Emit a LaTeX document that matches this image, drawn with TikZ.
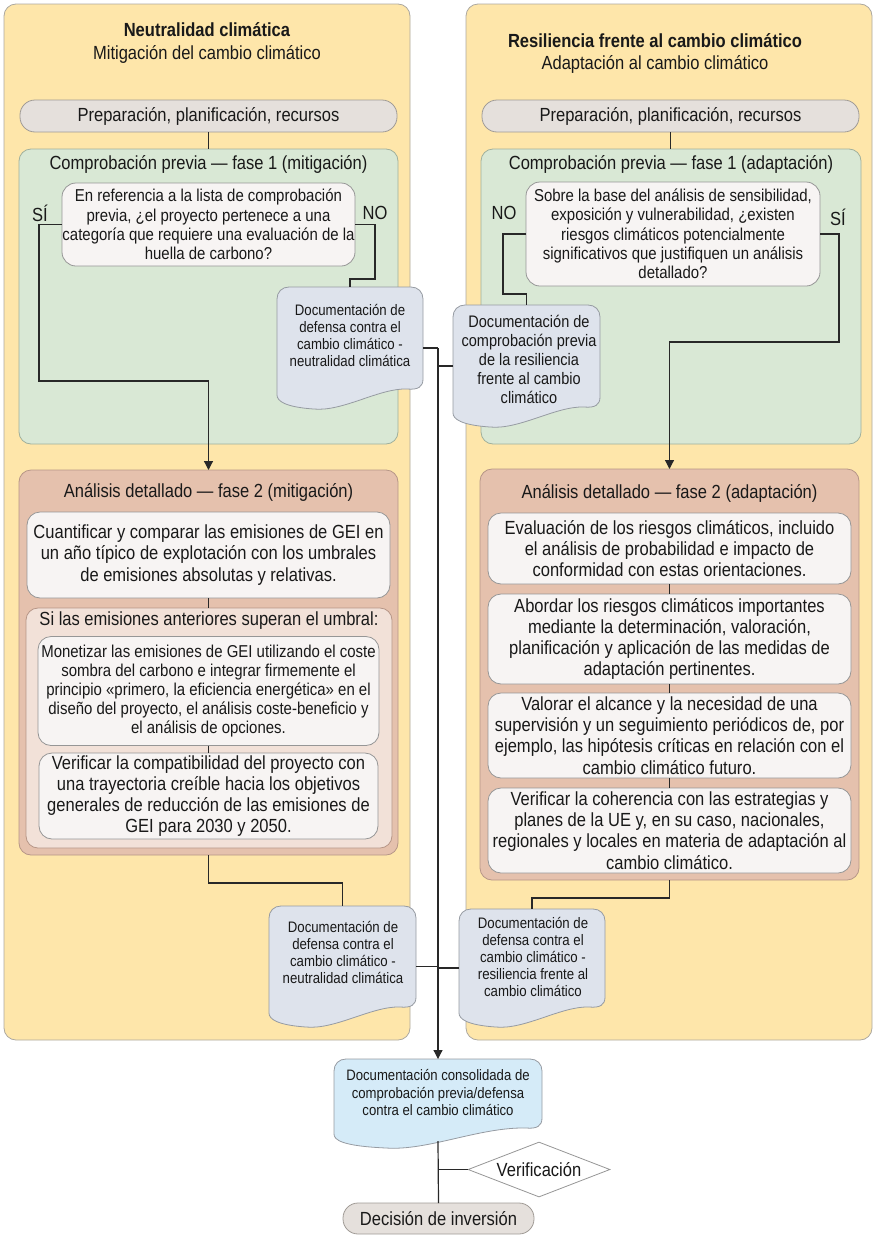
\documentclass[tikz,border=0pt]{standalone}
\usepackage{fontspec}
\setmainfont{Liberation Sans}[FakeStretch=0.87]
\usetikzlibrary{arrows.meta,shapes.geometric}
\definecolor{panelc}{RGB}{254,230,170}
\definecolor{panelb}{RGB}{172,168,160}
\definecolor{greenc}{RGB}{217,232,213}
\definecolor{greenb}{RGB}{160,176,156}
\definecolor{prepc}{RGB}{229,224,220}
\definecolor{prepb}{RGB}{160,155,150}
\definecolor{whitec}{RGB}{247,244,243}
\definecolor{whiteb}{RGB}{150,150,150}
\definecolor{docc}{RGB}{222,227,236}
\definecolor{docb}{RGB}{150,155,162}
\definecolor{brownc}{RGB}{229,193,173}
\definecolor{brownb}{RGB}{182,150,135}
\definecolor{lightc}{RGB}{242,225,216}
\definecolor{consc}{RGB}{213,235,248}
\definecolor{linec}{RGB}{40,40,40}
\definecolor{textc}{RGB}{25,25,25}
\newcommand\docnode[6]{% #1 name, #2 fill, #3 xl, #4 xr, #5 yt, #6 H
  \filldraw[draw=docb, line width=0.8pt, fill=#2]
    (#3,{#5+#6-14}) -- (#3,{#5+12})
    .. controls (#3,{#5+5}) and ({#3+5},#5) .. ({#3+12},#5)
    -- ({#4-12},#5)
    .. controls ({#4-5},#5) and (#4,{#5+5}) .. (#4,{#5+12})
    -- (#4,{#5+#6-30})
    .. controls (#4,{#5+#6-22}) and ({#4-5},{#5+#6-19}) .. ({#4-16},{#5+#6-20})
    .. controls ({#4-0.3*(#4-#3)},{#5+#6-21}) and ({#3+0.45*(#4-#3)},{#5+#6+3}) .. ({#3+0.25*(#4-#3)},{#5+#6})
    .. controls ({#3+8},{#5+#6-2}) and (#3,{#5+#6-8}) .. (#3,{#5+#6-14}) -- cycle;
  \node[inner sep=0pt, outer sep=0pt, minimum width={#4-#3}, minimum height={#6}] (#1) at ({(#3+#4)/2},{#5+#6/2}) {};
}
\tikzset{
  conn/.style={draw=linec, line width=1.2pt},
  arr/.style={conn, -{Triangle[length=9pt,width=9pt]}},
  box/.style={draw, inner sep=0pt, outer sep=0pt, line width=0.8pt, align=center, text=textc},
  panel/.style={box, draw=panelb, fill=panelc, rounded corners=12pt},
  prepbox/.style={box, draw=prepb, fill=prepc, rounded corners=15pt, font=\fontsize{19}{21}\selectfont},
  greenbox/.style={box, draw=greenb, fill=greenc, rounded corners=12pt},
  brownbox/.style={box, draw=brownb, fill=brownc, rounded corners=12pt},
  lightbox/.style={box, draw=brownb, fill=lightc, rounded corners=12pt},
  wbox/.style={box, draw=whiteb, fill=whitec, rounded corners=13pt, font=\fontsize{19}{21.2}\selectfont},
  qbox/.style={box, draw=whiteb, fill=whitec, rounded corners=14pt, font=\fontsize{17.2}{19.3}\selectfont},
  txt/.style={inner sep=0pt, outer sep=0pt, align=center, text=textc, font=\fontsize{19}{21.2}\selectfont},
  doctxt/.style={txt, font=\fontsize{15.2}{17}\selectfont},
}
\begin{document}
\begin{tikzpicture}[x=1pt,y=-1pt]
\useasboundingbox (0,0) rectangle (881,1253);
% panels
\node[panel, minimum width=406, minimum height=1036] (pL) at (207,522) {};
\node[panel, minimum width=406, minimum height=1036] (pR) at (669,522) {};
\node[txt, font=\fontsize{19}{23}\selectfont] (tL) at (207,43) {\textbf{Neutralidad climática}\\Mitigación del cambio climático};
\node[txt, font=\fontsize{19}{22}\selectfont] (tR) at (655,54) {\textbf{Resiliencia frente al cambio climático}\\Adaptación al cambio climático};
% prep
\node[prepbox, minimum width=377, minimum height=32] (prepL) at (208.5,116) {Preparación, planificación, recursos};
\node[prepbox, minimum width=377, minimum height=32] (prepR) at (670.5,116) {Preparación, planificación, recursos};
% green
\node[greenbox, minimum width=379, minimum height=295] (g1L) at (208.5,296.5) {};
\node[greenbox, minimum width=380, minimum height=295] (g1R) at (671,296.5) {};
\node[txt] (g1Lt) at (208.5,164) {Comprobación previa — fase 1 (mitigación)};
\node[txt] (g1Rt) at (671,164) {Comprobación previa — fase 1 (adaptación)};
\node[qbox, minimum width=293, minimum height=83] (qL) at (208.5,224.5) {En referencia a la lista de comprobación\\previa, ¿el proyecto pertenece a una\\categoría que requiere una evaluación de la\\huella de carbono?};
\node[qbox, minimum width=294, minimum height=104] (qR) at (673,234) {Sobre la base del análisis de sensibilidad,\\exposición y vulnerabilidad, ¿existen\\riesgos climáticos potencialmente\\significativos que justifiquen un análisis\\detallado?};
\node[txt] (siL) at (40,213) {SÍ};
\node[txt] (noL) at (375,213) {NO};
\node[txt] (noR) at (504,213) {NO};
\node[txt] (siR) at (838,217) {SÍ};
% brown left
\node[brownbox, minimum width=379, minimum height=385] (b1L) at (208.5,662.5) {};
\node[txt] (b1Lt) at (208.5,492) {Análisis detallado — fase 2 (mitigación)};
\node[wbox, minimum width=363, minimum height=86] (L1) at (208.5,555) {Cuantificar y comparar las emisiones de GEI en\\un año típico de explotación con los umbrales\\de emisiones absolutas y relativas.};
\node[lightbox, minimum width=366, minimum height=240] (Lin) at (209,728) {};
\node[txt] (Lint) at (209,621) {Si las emisiones anteriores superan el umbral:};
\node[wbox, font=\fontsize{17.2}{19}\selectfont, minimum width=341, minimum height=109] (La) at (208.5,691) {Monetizar las emisiones de GEI utilizando el coste\\sombra del carbono e integrar firmemente el\\principio «primero, la eficiencia energética» en el\\diseño del proyecto, el análisis coste-beneficio y\\el análisis de opciones.};
\node[wbox, minimum width=339, minimum height=86] (Lb) at (208.5,796) {Verificar la compatibilidad del proyecto con\\una trayectoria creíble hacia los objetivos\\generales de reducción de las emisiones de\\GEI para 2030 y 2050.};
% brown right
\node[brownbox, minimum width=379, minimum height=411] (b1R) at (669.5,674.5) {};
\node[txt] (b1Rt) at (669.5,493) {Análisis detallado — fase 2 (adaptación)};
\node[wbox, minimum width=363, minimum height=71] (R1) at (669.5,548.5) {Evaluación de los riesgos climáticos, incluido\\el análisis de probabilidad e impacto de\\conformidad con estas orientaciones.};
\node[wbox, minimum width=363, minimum height=90] (R2) at (669.5,639) {Abordar los riesgos climáticos importantes\\mediante la determinación, valoración,\\planificación y aplicación de las medidas de\\adaptación pertinentes.};
\node[wbox, minimum width=363, minimum height=85] (R3) at (669.5,735.5) {Valorar el alcance y la necesidad de una\\supervisión y un seguimiento periódicos de, por\\ejemplo, las hipótesis críticas en relación con el\\cambio climático futuro.};
\node[wbox, minimum width=363, minimum height=85] (R4) at (669.5,830.5) {Verificar la coherencia con las estrategias y\\planes de la UE y, en su caso, nacionales,\\regionales y locales en materia de adaptación al\\cambio climático.};
% documents
\docnode{d1L}{docc}{277}{423}{287}{122}
\node[doctxt] (d1Lt) at (350,335) {Documentación de\\defensa contra el\\cambio climático -\\neutralidad climática};
\docnode{d1R}{docc}{453}{600}{305}{122}
\node[doctxt, font=\fontsize{16.7}{19}\selectfont] (d1Rt) at (529,359.5) {Documentación de\\comprobación previa\\de la resiliencia\\frente al cambio\\climático};
\docnode{d2L}{docc}{269}{416}{906}{121}
\node[doctxt] (d2Lt) at (343,952) {Documentación de\\defensa contra el\\cambio climático -\\neutralidad climática};
\docnode{d2R}{docc}{459}{605}{909}{118}
\node[doctxt] (d2Rt) at (533,956.5) {Documentación de\\defensa contra el\\cambio climático -\\resiliencia frente al\\cambio climático};
\docnode{cons}{consc}{334}{542}{1059}{89}
\node[doctxt, font=\fontsize{15.1}{17.5}\selectfont] (const) at (438,1092.5) {Documentación consolidada de\\comprobación previa/defensa\\contra el cambio climático};
% bottom
\node[diamond, shape aspect=2.58, draw=whiteb, fill=white, line width=0.8pt, inner sep=0pt, minimum width=142, minimum height=55, text=textc, font=\fontsize{19}{21}\selectfont] (ver) at (539,1169.5) {Verificación};
\node[prepbox, minimum width=191, minimum height=31] (dec) at (438.5,1218.5) {Decisión de inversión};
% coordinates
\coordinate (j1) at (438,348);
\coordinate (cSL) at (39,381);
\coordinate (cNL) at (375,279);
\coordinate (cNR) at (503,294);
\coordinate (cSR) at (839,342);
\coordinate (m2L) at (342.5,883);
\coordinate (m2R) at (532,898);
% connectors
\draw[conn] (prepL.south) -- (g1L.north);
\draw[conn] (prepR.south) -- (prepR.south |- g1R.north);
\draw[arr] (qL.west) -| (cSL) -| (b1L.north);
\draw[conn] (qL.east) -| (cNL) -| (d1L.north);
\draw[conn] (qR.west) -| (cNR) -| (d1R.north);
\draw[arr] (qR.east) -| (cSR) -| (b1R.north);
\draw[conn] (L1.south) -- (Lin.north -| L1.south);
\draw[conn] (La.south) -- (Lb.north -| La.south);
\draw[conn] (R1.south) -- (R2.north);
\draw[conn] (R2.south) -- (R3.north);
\draw[conn] (R3.south) -- (R4.north);
\draw[conn] (b1L.south) |- (m2L) -- (d2L.north);
\draw[conn] (b1R.south) |- (m2R) -- (d2R.north);
\draw[conn] (d1L.east) -- (j1);
\draw[arr] (j1) -- (cons.north);
\draw[conn] (d1R.west) -- (d1R.west -| j1);
\draw[conn] (d2L.east) -- (d2L.east -| j1);
\draw[conn] (d2R.west) -- (d2R.west -| j1);
\draw[conn] ([yshift=7pt]cons.south) -- (dec.north);
\draw[conn] (ver.west -| dec.north) -- (ver.west);
\end{tikzpicture}
\end{document}
